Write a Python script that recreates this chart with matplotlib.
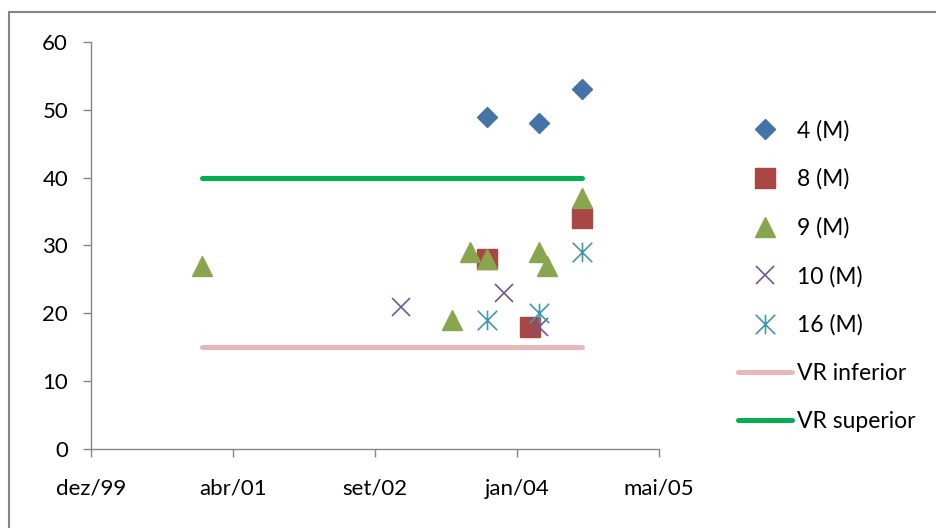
import numpy as np
import matplotlib
matplotlib.use("Agg")
from matplotlib import pyplot as plt
from matplotlib.path import Path
from matplotlib.patches import Rectangle
import matplotlib.dates as mdates

plt.rcParams['font.family'] = ['Lato', 'DejaVu Sans']

# ---- dados das series (data da coleta, valor) ----
s4_datas = ["2003-10-01", "2004-04-01", "2004-09-01"]
s4_vals = [49, 48, 53]

s8_datas = ["2003-10-01", "2004-03-01", "2004-09-01"]
s8_vals = [28, 18, 34]

s9_datas = ["2001-01-01", "2003-06-01", "2003-08-01", "2003-10-01",
            "2004-04-01", "2004-05-01", "2004-09-01"]
s9_vals = [27, 19, 29, 28, 29, 27, 37]

s10_datas = ["2002-12-01", "2003-12-01", "2004-04-01"]
s10_vals = [21, 23, 18]

s16_datas = ["2003-10-01", "2004-04-01", "2004-09-01"]
s16_vals = [19, 20, 29]

vr_datas = ["2001-01-01", "2004-09-01"]
vr_inferior = [15, 15]
vr_superior = [40, 40]

# eixo x em dias, passo de 500 dias como no excel
x_ini = "1999-12-06"
x_fim = "2005-05-29"
x_ticklabels = ["dez/99", "abr/01", "set/02", "jan/04", "mai/05"]


def d(lista):
    return mdates.date2num(np.array(lista, dtype="datetime64[D]"))


# marcador "estrela" do excel: X com barra vertical
star = Path([(-0.5, -0.5), (0.5, 0.5), (-0.5, 0.5), (0.5, -0.5), (0, -0.5), (0, 0.5)],
            [Path.MOVETO, Path.LINETO, Path.MOVETO, Path.LINETO, Path.MOVETO, Path.LINETO])

fig = plt.figure(figsize=(9.36, 5.28), dpi=100)
ax = fig.add_axes([91/936, 1-449/528, (659-91)/936, (449-42)/528])

ax.plot(d(s4_datas), s4_vals, ls="none", marker="D", ms=10, color="#4572A7", label="4 (M)")
ax.plot(d(s8_datas), s8_vals, ls="none", marker="s", ms=14, color="#AA4643", label="8 (M)")
ax.plot(d(s9_datas), s9_vals, ls="none", marker="^", ms=14, color="#89A54E", label="9 (M)")
ax.plot(d(s10_datas), s10_vals, ls="none", marker="x", ms=13, mew=1.2, color="#71588F", label="10 (M)")
ax.plot(d(s16_datas), s16_vals, ls="none", marker=star, ms=14, mew=1.2, color="#4198AF", label="16 (M)")
ax.plot(d(vr_datas), vr_inferior, lw=3.6, color="#E6B9B8", solid_capstyle="round", label="VR inferior", zorder=1)
ax.plot(d(vr_datas), vr_superior, lw=3.6, color="#00B050", solid_capstyle="round", label="VR superior", zorder=1)

x0, x1 = d([x_ini, x_fim])
ax.set_xlim(x0, x1)
ax.set_xticks(np.arange(x0, x1 + 1, 500))
ax.set_xticklabels(x_ticklabels)
ax.set_ylim(0, 60)
ax.set_yticks(range(0, 61, 10))

for s in ["top", "right"]:
    ax.spines[s].set_visible(False)
for s in ["left", "bottom"]:
    ax.spines[s].set_color("#868686")
    ax.spines[s].set_linewidth(1.0)
ax.tick_params(axis="both", direction="out", length=5.5, width=1.0, color="#868686",
               labelsize=16, labelcolor="black")
ax.tick_params(axis="y", pad=11)
ax.tick_params(axis="x", pad=16)

fig.legend(loc="upper left", bbox_to_anchor=(738/936, 1-120/528), frameon=False,
           fontsize=16.5, handlelength=2.36, handletextpad=0.22, labelspacing=1.18,
           borderpad=0, borderaxespad=0)

# moldura da area do grafico
fig.patches.append(Rectangle((9/936, -0.1), 1.2, 1.1 - 12/528, transform=fig.transFigure,
                             fill=False, edgecolor="#868686", lw=1.5))

fig.savefig("out.png", dpi=100)
